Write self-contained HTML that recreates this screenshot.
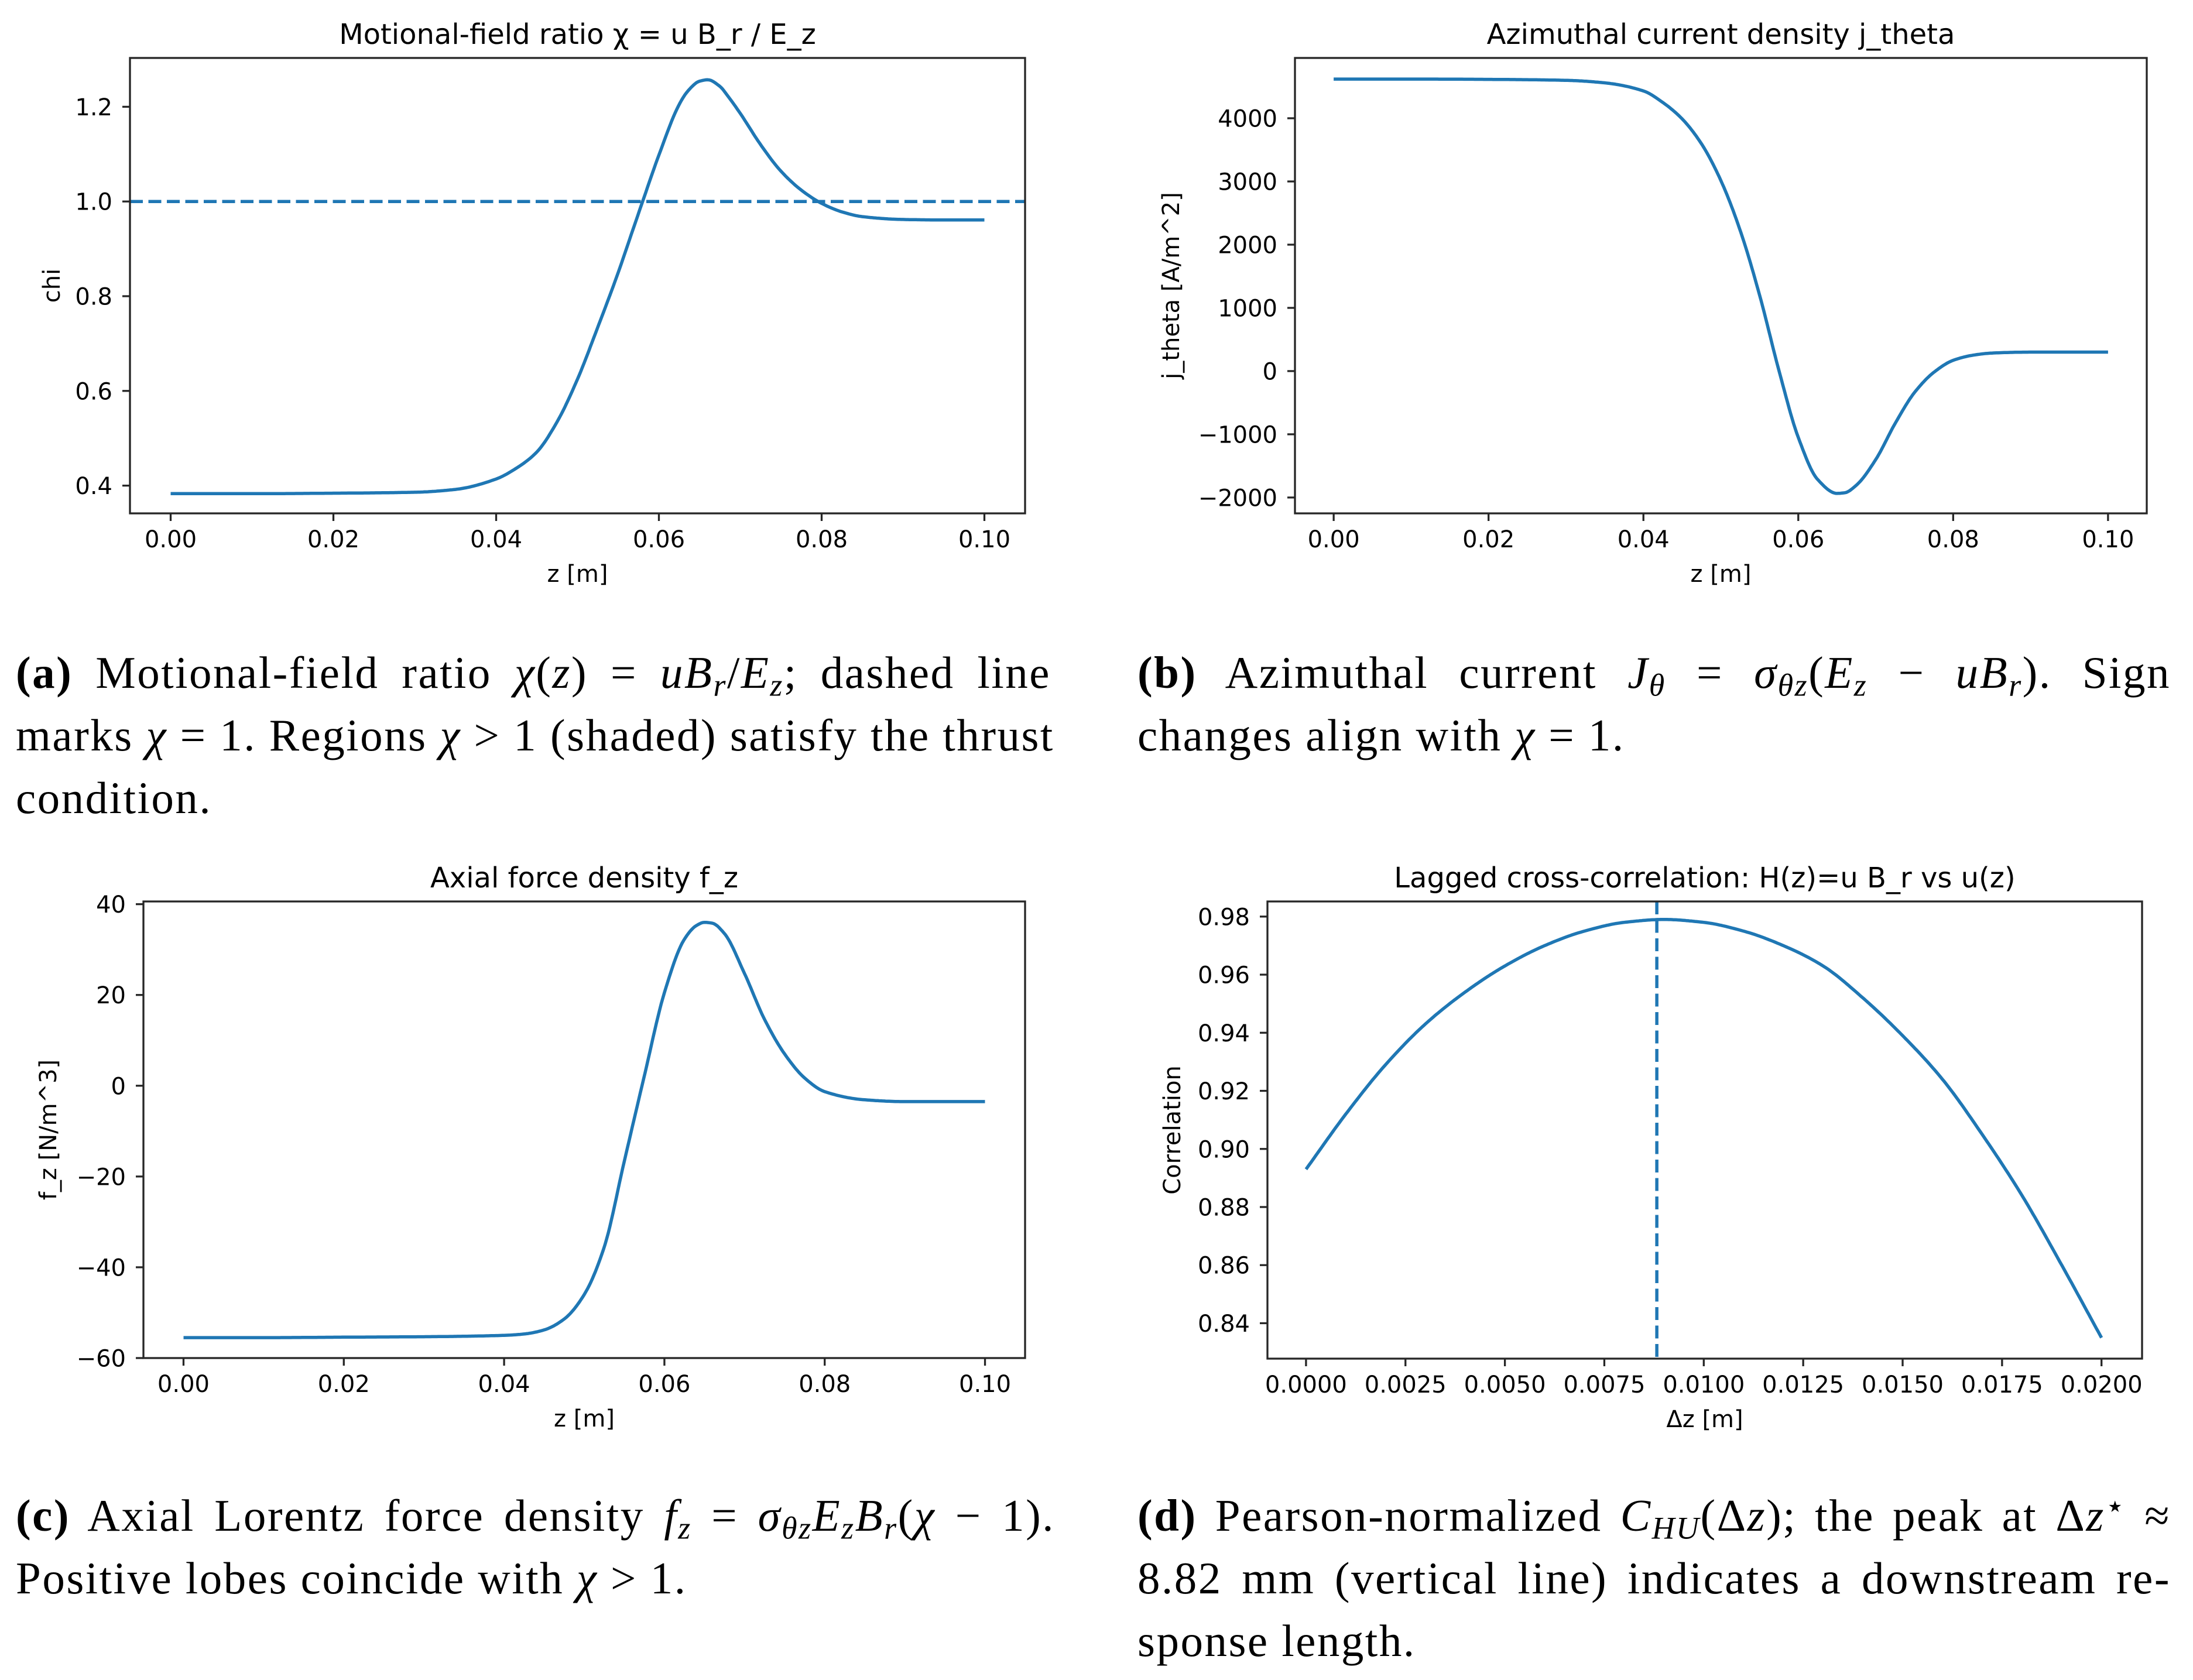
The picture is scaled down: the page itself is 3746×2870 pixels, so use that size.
<!DOCTYPE html>
<html><head><meta charset="utf-8">
<style>
html,body{margin:0;padding:0;background:#fff;}
#wrap{position:relative;width:3746px;height:2870px;overflow:hidden;background:#fff;}
svg{position:absolute;left:0;top:0;}
.cap{position:absolute;font-family:"Liberation Serif","DejaVu Serif",serif;font-size:77px;line-height:76px;letter-spacing:2.5px;color:#000;text-align:justify;text-align-last:justify;white-space:nowrap;}
.cap.last{text-align:left;text-align-last:left;}
.cap i{font-style:italic;}
.cap sub{font-size:70%;vertical-align:-0.25em;line-height:0;}
.cap sup{font-size:70%;vertical-align:0.45em;line-height:0;}
</style></head>
<body>
<div id="wrap">
<svg id="svg" width="3746" height="2870" viewBox="0 0 3746 2870"></svg>

<div class="cap" style="left:27px;top:1111px;width:1768px;"><b>(a)</b> Motional-field ratio <i>χ</i>(<i>z</i>) = <i>uB<sub>r</sub></i>/<i>E<sub>z</sub></i>; dashed line</div>
<div class="cap" style="left:27px;top:1218px;width:1768px;">marks <i>χ</i> = 1. Regions <i>χ</i> &gt; 1 (shaded) satisfy the thrust</div>
<div class="cap last" style="left:27px;top:1325px;width:1768px;">condition.</div>

<div class="cap" style="left:1943px;top:1111px;width:1765px;"><b>(b)</b> Azimuthal current <i>J<sub>θ</sub></i> = <i>σ<sub>θz</sub></i>(<i>E<sub>z</sub></i> − <i>uB<sub>r</sub></i>). Sign</div>
<div class="cap last" style="left:1943px;top:1218px;width:1765px;">changes align with <i>χ</i> = 1.</div>

<div class="cap" style="left:27px;top:2551px;width:1775px;"><b>(c)</b> Axial Lorentz force density <i>f<sub>z</sub></i> = <i>σ<sub>θz</sub>E<sub>z</sub>B<sub>r</sub></i>(<i>χ</i> − 1).</div>
<div class="cap last" style="left:27px;top:2658px;width:1775px;">Positive lobes coincide with <i>χ</i> &gt; 1.</div>

<div class="cap" style="left:1943px;top:2551px;width:1765px;"><b>(d)</b> Pearson-normalized <i>C<sub>HU</sub></i>(Δ<i>z</i>); the peak at Δ<i>z</i><sup>⋆</sup> ≈</div>
<div class="cap" style="left:1943px;top:2658px;width:1765px;">8.82 mm (vertical line) indicates a downstream re-</div>
<div class="cap last" style="left:1943px;top:2765px;width:1765px;">sponse length.</div>
</div>

<script>
// ---- Panel (a) chi ----
const zA = [0,0.01,0.02,0.03,0.035,0.04,0.0425,0.045,0.0475,0.05,0.0525,0.055,0.0565,0.058,0.06,0.0625,0.0635,0.065,0.066,0.0675,0.0685,0.07,0.0725,0.075,0.0775,0.08,0.0825,0.085,0.09,0.095,0.1];
const chiA = [0.383,0.383,0.384,0.386,0.392,0.414,0.437,0.471,0.535,0.625,0.735,0.85,0.925,1.0,1.098,1.205,1.232,1.254,1.257,1.243,1.222,1.186,1.12,1.064,1.024,0.996,0.978,0.968,0.962,0.961,0.961];
const xTicksA = [0,0.02,0.04,0.06,0.08,0.10];
const xTickLabelsA = ["0.00","0.02","0.04","0.06","0.08","0.10"];
const yTicksA = [0.4,0.6,0.8,1.0,1.2];
const yTickLabelsA = ["0.4","0.6","0.8","1.0","1.2"];
const refLineA = [1.0];

// ---- Panel (b) j_theta ----
const zB = [0,0.01,0.02,0.03,0.035,0.04,0.0425,0.045,0.0475,0.05,0.0525,0.055,0.0575,0.06,0.0625,0.065,0.066,0.0675,0.07,0.0725,0.075,0.0775,0.08,0.0825,0.085,0.09,0.095,0.1];
const jB = [4620,4620,4615,4600,4560,4432,4250,3990,3595,3015,2224,1203,10,-1050,-1715,-1935,-1925,-1805,-1400,-830,-340,-20,170,250,285,300,300,300];
const xTicksB = [0,0.02,0.04,0.06,0.08,0.10];
const xTickLabelsB = ["0.00","0.02","0.04","0.06","0.08","0.10"];
const yTicksB = [-2000,-1000,0,1000,2000,3000,4000];
const yTickLabelsB = ["\u22122000","\u22121000","0","1000","2000","3000","4000"];

// ---- Panel (c) f_z ----
const zC = [0,0.01,0.02,0.03,0.04,0.0425,0.045,0.0475,0.05,0.0525,0.055,0.0575,0.06,0.0625,0.064,0.065,0.066,0.0675,0.07,0.0725,0.075,0.0775,0.08,0.085,0.09,0.095,0.1];
const fC = [-55.5,-55.5,-55.4,-55.3,-55.0,-54.7,-53.8,-51.4,-46,-35.5,-16.6,2.2,20.5,32.3,35.3,36.0,35.8,33.5,24.7,14.6,7.0,1.7,-1.3,-3.1,-3.5,-3.5,-3.5];
const xTicksC = [0,0.02,0.04,0.06,0.08,0.10];
const xTickLabelsC = ["0.00","0.02","0.04","0.06","0.08","0.10"];
const yTicksC = [-60,-40,-20,0,20,40];
const yTickLabelsC = ["\u221260","\u221240","\u221220","0","20","40"];

// ---- Panel (d) correlation ----
const dzD = [0,0.001,0.002,0.003,0.004,0.005,0.006,0.007,0.008,0.009,0.010,0.011,0.012,0.013,0.014,0.015,0.016,0.017,0.018,0.019,0.020];
const corrD = [0.893,0.912,0.929,0.943,0.954,0.963,0.970,0.975,0.978,0.979,0.978,0.975,0.970,0.963,0.952,0.939,0.924,0.905,0.884,0.860,0.835];
const xTicksD = [0,0.0025,0.005,0.0075,0.01,0.0125,0.015,0.0175,0.02];
const xTickLabelsD = ["0.0000","0.0025","0.0050","0.0075","0.0100","0.0125","0.0150","0.0175","0.0200"];
const yTicksD = [0.84,0.86,0.88,0.90,0.92,0.94,0.96,0.98];
const yTickLabelsD = ["0.84","0.86","0.88","0.90","0.92","0.94","0.96","0.98"];
const peakD = [0.00882];

const NS = "http://www.w3.org/2000/svg";
const svg = document.getElementById('svg');
const BLUE = "#1f77b4", SPINE = "#262626", FONT = "DejaVu Sans, Liberation Sans, sans-serif", FS = 40;

function mk(tag, attrs, parent){
  const e = document.createElementNS(NS, tag);
  for (const k in attrs) e.setAttribute(k, attrs[k]);
  (parent||svg).appendChild(e);
  return e;
}
function linScale(d0,d1,r0,r1){ return v => r0 + (v-d0)/(d1-d0)*(r1-r0); }

// monotone cubic (Fritsch-Carlson) interpolation in data space
function monotone(xs, ys){
  const n = xs.length, d = [], m = new Array(n);
  for (let i=0;i<n-1;i++) d.push((ys[i+1]-ys[i])/(xs[i+1]-xs[i]));
  m[0]=d[0]; m[n-1]=d[n-2];
  for (let i=1;i<n-1;i++){
    if (d[i-1]*d[i] <= 0) m[i]=0;
    else { const h0=xs[i]-xs[i-1], h1=xs[i+1]-xs[i]; const w1=2*h1+h0, w2=h1+2*h0; m[i]=(w1+w2)/(w1/d[i-1]+w2/d[i]); }
  }
  return function(x){
    let i = 0; while (i<n-2 && x>xs[i+1]) i++;
    const h = xs[i+1]-xs[i], t=(x-xs[i])/h, t2=t*t, t3=t2*t;
    return (2*t3-3*t2+1)*ys[i] + (t3-2*t2+t)*h*m[i] + (-2*t3+3*t2)*ys[i+1] + (t3-t2)*h*m[i+1];
  };
}

function panel(p){
  const g = mk('g', {});
  
  
  const X = linScale(p.xlim[0], p.xlim[1], p.L, p.R);
  const Y = linScale(p.ylim[0], p.ylim[1], p.B, p.T);
  const title = mk('text', {x:(p.L+p.R)/2, y:p.T-24, 'text-anchor':'middle', 'font-family':FONT, 'font-size':48, fill:'#000'}, g);
  title.textContent = p.title;
  
  
  p.xticks.forEach((v,i)=>{
    const x = X(v);
    const t = mk('line', {x1:x, x2:x, y1:p.B, y2:p.B+13, stroke:SPINE, 'stroke-width':3.3}, g);
    
    
    const l = mk('text', {x:x, y:p.B+58, 'text-anchor':'middle', 'font-family':FONT, 'font-size':FS, fill:'#000'}, g);
    l.textContent = p.xlabels[i];
    
    
  });
  p.yticks.forEach((v,i)=>{
    const y = Y(v);
    const t = mk('line', {x1:p.L-13, x2:p.L, y1:y, y2:y, stroke:SPINE, 'stroke-width':3.3}, g);
    
    
    const l = mk('text', {x:p.L-30, y:y+14.5, 'text-anchor':'end', 'font-family':FONT, 'font-size':FS, fill:'#000'}, g);
    l.textContent = p.ylabels[i];
    
    
  });
  const xl = mk('text', {x:(p.L+p.R)/2, y:p.B+117, 'text-anchor':'middle', 'font-family':FONT, 'font-size':FS, fill:'#000'}, g);
  xl.textContent = p.xtitle;
  
  
  const yc = (p.T+p.B)/2;
  const yl = mk('text', {x:p.ylx, y:yc, 'text-anchor':'middle', 'font-family':FONT, 'font-size':FS, fill:'#000', transform:'rotate(-90 '+p.ylx+' '+yc+')'}, g);
  yl.textContent = p.ytitle;
  
  
  const cid = 'clip-' + p.name;
  const cp = mk('clipPath', {id:cid}, g);
  mk('rect', {x:p.L, y:p.T, width:p.R-p.L, height:p.B-p.T}, cp);
  const plot = mk('g', {'clip-path':'url(#'+cid+')'}, g);
  (p.hlines||[]).forEach(v=>{
    const y = Y(v);
    const h = mk('line', {x1:p.L, x2:p.R, y1:y, y2:y, stroke:BLUE, 'stroke-width':5.5, 'stroke-dasharray':'22,9.5'}, plot);
    
    
  });
  (p.vlines||[]).forEach(v=>{
    const x = X(v);
    const h = mk('line', {x1:x, x2:x, y1:p.T, y2:p.B, stroke:BLUE, 'stroke-width':5.5, 'stroke-dasharray':'22,9.5'}, plot);
    
    
  });
  const f = monotone(p.xs, p.ys);
  const x0 = p.xs[0], x1 = p.xs[p.xs.length-1], N = 500;
  let d = "";
  for (let k=0;k<=N;k++){
    const xv = x0 + (x1-x0)*k/N;
    d += (k?"L":"M") + X(xv).toFixed(1) + "," + Y(f(xv)).toFixed(1);
  }
  const path = mk('path', {d:d, fill:'none', stroke:BLUE, 'stroke-width':5.5, 'stroke-linejoin':'round'}, plot);
  
  
  const fr = mk('rect', {x:p.L, y:p.T, width:p.R-p.L, height:p.B-p.T, fill:'none', stroke:SPINE, 'stroke-width':3.3}, g);
  
  
}

panel({name:'chi-chart', L:222, R:1751, T:99, B:877, xlim:[-0.005,0.105], ylim:[0.3414,1.3031],
  xs:zA, ys:chiA, xticks:xTicksA, xlabels:xTickLabelsA, yticks:yTicksA, ylabels:yTickLabelsA,
  hlines:refLineA, title:'Motional-field ratio \u03C7 = u B_r / E_z', xtitle:'z [m]', ytitle:'chi', ylx:102});
panel({name:'j-theta-chart', L:2212, R:3667, T:99, B:877, xlim:[-0.005,0.105], ylim:[-2251,4954],
  xs:zB, ys:jB, xticks:xTicksB, xlabels:xTickLabelsB, yticks:yTicksB, ylabels:yTickLabelsB,
  title:'Azimuthal current density j_theta', xtitle:'z [m]', ytitle:'j_theta [A/m^2]', ylx:2014});
panel({name:'f-z-chart', L:245, R:1751, T:1540, B:2320, xlim:[-0.005,0.105], ylim:[-60.0,40.6],
  xs:zC, ys:fC, xticks:xTicksC, xlabels:xTickLabelsC, yticks:yTicksC, ylabels:yTickLabelsC,
  title:'Axial force density f_z', xtitle:'z [m]', ytitle:'f_z [N/m^3]', ylx:96});
panel({name:'correlation-chart', L:2165, R:3659, T:1540, B:2321, xlim:[-0.00097,0.02102], ylim:[0.8278,0.9852],
  xs:dzD, ys:corrD, xticks:xTicksD, xlabels:xTickLabelsD, yticks:yTicksD, ylabels:yTickLabelsD,
  vlines:peakD, title:'Lagged cross-correlation: H(z)=u B_r vs u(z)', xtitle:'\u0394z [m]', ytitle:'Correlation', ylx:2016});
</script>
</body></html>
